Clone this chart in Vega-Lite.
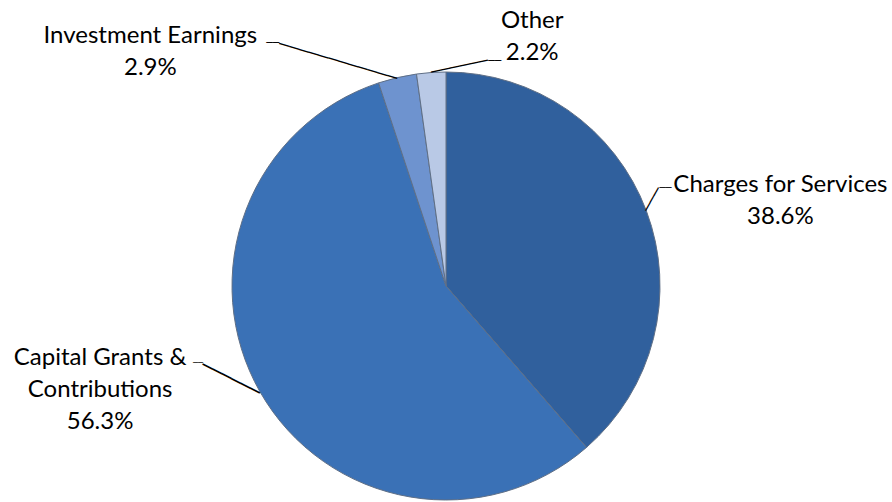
{
  "$schema": "https://vega.github.io/schema/vega-lite/v6.json",
  "width": 892,
  "height": 432,
  "autosize": "none",
  "padding": {"left": 0, "top": 70, "right": 0, "bottom": 0},
  "background": "white",
  "config": {"view": {"stroke": null}, "text": {"font": "Lato", "fontSize": 24, "lineBreak": "\n", "lineHeight": 32, "color": "#000000"}},
  "data": {"values": [
    {"cat": "Charges for Services", "value": 38.6, "ord": 1, "label": "Charges for Services\n38.6%"},
    {"cat": "Capital Grants & Contributions", "value": 56.3, "ord": 2, "label": "Capital Grants &\nContributions\n56.3%"},
    {"cat": "Investment Earnings", "value": 2.9, "ord": 3, "label": "Investment Earnings\n2.9%"},
    {"cat": "Other", "value": 2.2, "ord": 4, "label": "Other\n2.2%"}
  ]},
  "encoding": {
    "theta": {"field": "value", "type": "quantitative", "stack": true},
    "order": {"field": "ord", "type": "quantitative"}
  },
  "layer": [
    {
      "mark": {"type": "arc", "outerRadius": 214, "stroke": "#5f6f86", "strokeWidth": 1},
      "encoding": {
        "color": {"field": "cat", "type": "nominal", "legend": null,
          "scale": {"domain": ["Charges for Services", "Capital Grants & Contributions", "Investment Earnings", "Other"],
                    "range": ["#30609d", "#3a71b6", "#6e93cf", "#b9c9e6"]}}
      }
    },
    {
      "mark": {"type": "text", "align": "center", "baseline": "middle", "radius": 214, "dx": 134, "dy": -26},
      "encoding": {"text": {"condition": {"test": "datum.cat === 'Charges for Services'", "field": "label"}, "value": ""}}
    },
    {
      "mark": {"type": "text", "align": "center", "baseline": "middle", "radius": 214, "dx": -160, "dy": -34},
      "encoding": {"text": {"condition": {"test": "datum.cat === 'Capital Grants & Contributions'", "field": "label"}, "value": ""}}
    },
    {
      "mark": {"type": "text", "align": "center", "baseline": "middle", "radius": 214, "dx": -247, "dy": -42},
      "encoding": {"text": {"condition": {"test": "datum.cat === 'Investment Earnings'", "field": "label"}, "value": ""}}
    },
    {
      "mark": {"type": "text", "align": "center", "baseline": "middle", "radius": 214, "dx": 101, "dy": -52},
      "encoding": {"text": {"condition": {"test": "datum.cat === 'Other'", "field": "label"}, "value": ""}}
    },
    {
      "mark": {"type": "text", "font": "DejaVu Sans Mono", "fontSize": 14.6, "align": "left", "baseline": "middle", "radius": 214, "angle": -60.5},
      "encoding": {"text": {"condition": {"test": "datum.cat === 'Charges for Services'", "value": "───"}, "value": ""}}
    },
    {
      "mark": {"type": "text", "font": "DejaVu Sans Mono", "fontSize": 10, "align": "left", "baseline": "middle", "radius": 214, "dx": 13, "dy": -23},
      "encoding": {"text": {"condition": {"test": "datum.cat === 'Charges for Services'", "value": "──"}, "value": ""}}
    },
    {
      "mark": {"type": "text", "font": "DejaVu Sans Mono", "fontSize": 17.7, "align": "left", "baseline": "middle", "radius": 214, "angle": -153},
      "encoding": {"text": {"condition": {"test": "datum.cat === 'Capital Grants & Contributions'", "value": "──────"}, "value": ""}}
    },
    {
      "mark": {"type": "text", "font": "DejaVu Sans Mono", "fontSize": 8.3, "align": "right", "baseline": "middle", "radius": 214, "dx": -57, "dy": -29},
      "encoding": {"text": {"condition": {"test": "datum.cat === 'Capital Grants & Contributions'", "value": "──"}, "value": ""}}
    },
    {
      "mark": {"type": "text", "font": "DejaVu Sans Mono", "fontSize": 17, "align": "left", "baseline": "middle", "radius": 214, "angle": -163.5},
      "encoding": {"text": {"condition": {"test": "datum.cat === 'Investment Earnings'", "value": "────────────"}, "value": ""}}
    },
    {
      "mark": {"type": "text", "font": "DejaVu Sans Mono", "fontSize": 10.8, "align": "right", "baseline": "middle", "radius": 214, "dx": -118, "dy": -35},
      "encoding": {"text": {"condition": {"test": "datum.cat === 'Investment Earnings'", "value": "──"}, "value": ""}}
    },
    {
      "mark": {"type": "text", "font": "DejaVu Sans Mono", "fontSize": 16, "align": "left", "baseline": "middle", "radius": 214, "angle": -11.9},
      "encoding": {"text": {"condition": {"test": "datum.cat === 'Other'", "value": "──────"}, "value": ""}}
    },
    {
      "mark": {"type": "text", "font": "DejaVu Sans Mono", "fontSize": 10.8, "align": "left", "baseline": "middle", "radius": 214, "dx": 57, "dy": -12},
      "encoding": {"text": {"condition": {"test": "datum.cat === 'Other'", "value": "──"}, "value": ""}}
    }
  ]
}
